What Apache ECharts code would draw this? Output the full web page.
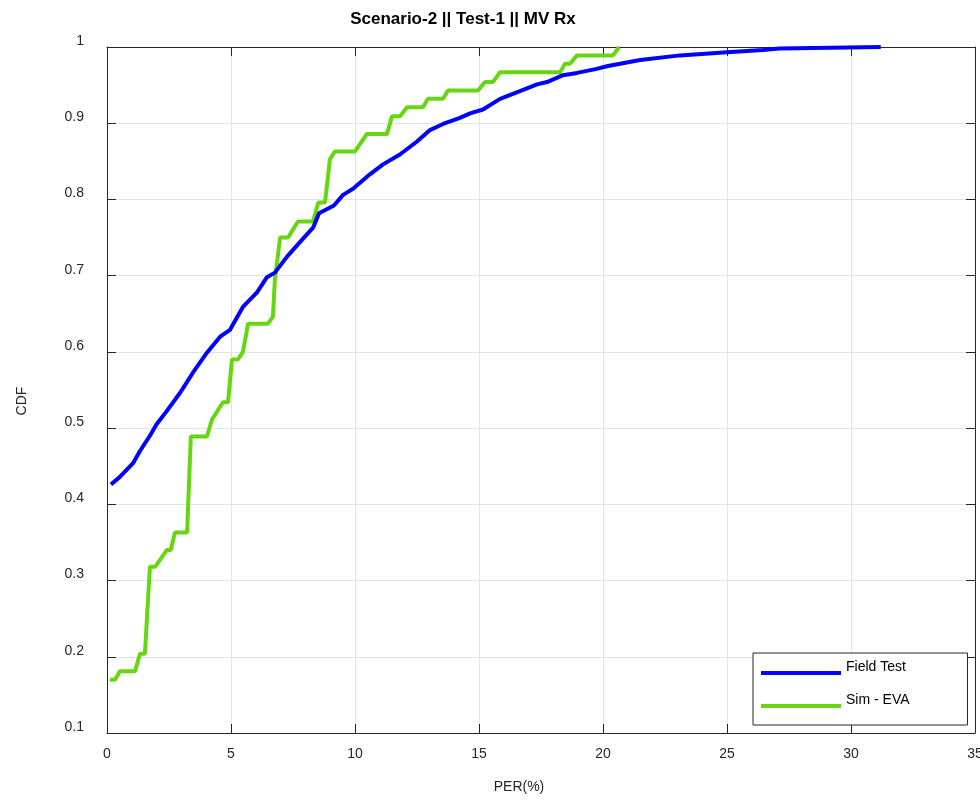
<!DOCTYPE html>
<html>
<head>
<meta charset="utf-8">
<title>Scenario-2 CDF</title>
<script src="https://cdn.jsdelivr.net/npm/echarts@6/dist/echarts.min.js"></script>
<style>
  html, body { margin: 0; padding: 0; background: #fff; }
  #chart { width: 980px; height: 803px; }
</style>
</head>
<body>
<div id="chart"></div>
<script>
// 数据：PER(%) / CDF
var fieldPer = [0.16, 0.52, 1.05, 1.33, 1.73, 2.0, 2.4, 2.94, 3.47, 4.03, 4.56, 4.96, 5.48, 6.05, 6.45, 6.77,
  7.26, 7.78, 8.31, 8.55, 9.15, 9.52, 9.92, 10.6, 11.13, 11.81, 12.5, 13.02, 13.55, 14.23, 14.64, 15.16,
  15.85, 16.65, 17.34, 17.74, 18.39, 18.95, 19.7, 20.2, 21.5, 23.1, 25.0, 26.45, 27.1, 31.2];
var fieldCdf = [0.426, 0.436, 0.454, 0.470, 0.490, 0.505, 0.522, 0.546, 0.573, 0.599, 0.620, 0.629, 0.659, 0.678, 0.698, 0.704,
  0.725, 0.744, 0.763, 0.782, 0.792, 0.806, 0.814, 0.833, 0.846, 0.859, 0.876, 0.891, 0.899, 0.907, 0.913, 0.918,
  0.932, 0.942, 0.951, 0.954, 0.963, 0.966, 0.971, 0.975, 0.983, 0.989, 0.993, 0.996, 0.998, 1.0];

var simPer = [0.12, 0.32, 0.52, 1.13, 1.33, 1.53, 1.73, 1.94, 2.41, 2.57, 2.74, 3.23, 3.38, 4.03, 4.23, 4.56, 4.68, 4.88,
  5.04, 5.28, 5.48, 5.69, 6.49, 6.69, 6.77, 6.98, 7.1, 7.3, 7.7, 8.31, 8.52, 8.79, 8.99, 9.19, 10.0, 10.48,
  11.29, 11.49, 11.81, 12.1, 12.74, 12.94, 13.55, 13.75, 14.96, 15.24, 15.56, 15.85, 18.27, 18.47, 18.67, 18.95,
  20.4, 20.65];
var simCdf = [0.17, 0.17, 0.181, 0.181, 0.204, 0.204, 0.318, 0.318, 0.34, 0.34, 0.363, 0.363, 0.489, 0.489, 0.511, 0.528, 0.534, 0.534,
  0.59, 0.59, 0.60, 0.637, 0.637, 0.646, 0.695, 0.75, 0.75, 0.75, 0.771, 0.771, 0.796, 0.796, 0.853, 0.863, 0.863, 0.886,
  0.886, 0.909, 0.909, 0.921, 0.921, 0.932, 0.932, 0.943, 0.943, 0.954, 0.954, 0.967, 0.967, 0.978, 0.978, 0.989,
  0.989, 1.0];

function pairs(xs, ys) {
  var out = [];
  for (var i = 0; i < xs.length; i++) out.push([xs[i], ys[i]]);
  return out;
}

var chart = echarts.init(document.getElementById('chart'));
var axisColor = '#262626';
var gridColor = '#e3e3e3';
var font = 'Liberation Sans, Arial, Helvetica, sans-serif';

var baseX = {
  type: 'value', min: 0, max: 35, interval: 5,
  axisLine: { show: true, onZero: false, lineStyle: { color: axisColor, width: 1 } },
  axisTick: { show: true, inside: true, length: 9, lineStyle: { color: axisColor } },
  splitLine: { show: false }
};
var baseY = {
  type: 'value', min: 0.1, max: 1, interval: 0.1,
  axisLine: { show: true, onZero: false, lineStyle: { color: axisColor, width: 1 } },
  axisTick: { show: true, inside: true, length: 9, lineStyle: { color: axisColor } },
  splitLine: { show: false }
};

var option = {
  animation: false,
  backgroundColor: '#fff',
  title: {
    text: 'Scenario-2 || Test-1 || MV Rx',
    left: 458, top: 6, textAlign: 'center',
    textStyle: { fontFamily: font, fontSize: 17, fontWeight: 'bold', color: '#000' }
  },
  grid: { left: 107, right: 5, top: 47, bottom: 70, containLabel: false, outerBoundsMode: 'none' },
  legend: {
    orient: 'vertical',
    left: 753, top: 653,
    itemWidth: 80, itemHeight: 4, itemGap: 7,
    icon: 'rect',
    padding: [7, 58, 6, 8],
    backgroundColor: '#fff',
    borderColor: axisColor, borderWidth: 1, borderRadius: 0,
    formatter: '{t|{name}}',
    textStyle: {
      fontFamily: font, fontSize: 14, color: '#000',
      rich: { t: { fontFamily: font, fontSize: 14, color: '#000', lineHeight: 14, padding: [0, 0, 12, 0] } }
    },
    data: ['Field Test', 'Sim - EVA']
  },
  xAxis: [
    Object.assign({}, baseX, {
      position: 'bottom',
      name: 'PER(%)', nameLocation: 'middle', nameGap: 47,
      nameTextStyle: { fontFamily: font, fontSize: 14, color: '#262626', padding: [0, 44, 0, 0] },
      axisLabel: { fontFamily: font, fontSize: 14, color: '#262626', margin: 14 },
      splitLine: { show: true, lineStyle: { color: gridColor, width: 1 } }
    }),
    Object.assign({}, baseX, { position: 'top', axisLabel: { show: false } })
  ],
  yAxis: [
    Object.assign({}, baseY, {
      position: 'left',
      name: 'CDF', nameLocation: 'middle', nameGap: 78, nameRotate: 90,
      nameTextStyle: { fontFamily: font, fontSize: 14, color: '#262626', padding: [0, 22, 0, 0] },
      axisLabel: {
        fontFamily: font, fontSize: 14, color: '#262626', margin: 23,
        verticalAlign: 'bottom', lineHeight: 12,
        formatter: function (v) { return Math.abs(v - 1) < 1e-9 ? '1' : v.toFixed(1); }
      },
      splitLine: { show: true, lineStyle: { color: gridColor, width: 1 } }
    }),
    Object.assign({}, baseY, { position: 'right', axisLabel: { show: false } })
  ],
  series: [
    {
      name: 'Field Test', type: 'line', xAxisIndex: 0, yAxisIndex: 0,
      data: pairs(fieldPer, fieldCdf), showSymbol: false, symbol: 'none',
      smooth: false, clip: true, z: 3,
      color: '#0000ff', lineStyle: { color: '#0000ff', width: 4 }
    },
    {
      name: 'Sim - EVA', type: 'line', xAxisIndex: 0, yAxisIndex: 0,
      data: pairs(simPer, simCdf), showSymbol: false, symbol: 'none',
      smooth: false, clip: true, z: 2,
      color: '#66d611', lineStyle: { color: '#66d611', width: 4 }
    }
  ]
};

chart.setOption(option);
</script>
</body>
</html>
